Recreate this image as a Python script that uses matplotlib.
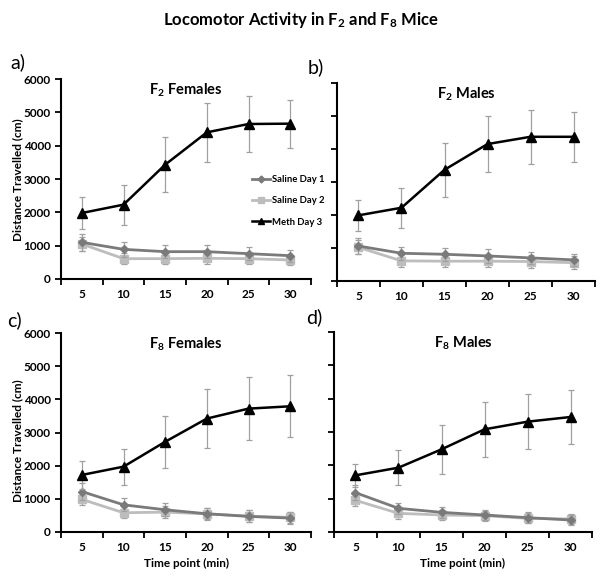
import matplotlib
matplotlib.use("Agg")
import matplotlib.pyplot as plt
from matplotlib.lines import Line2D
import numpy as np

plt.rcParams['font.family'] = ['Lato', 'DejaVu Sans']
plt.rcParams['font.weight'] = 'bold'
plt.rcParams['mathtext.fontset'] = 'custom'
plt.rcParams['mathtext.rm'] = 'Lato:bold'
plt.rcParams['mathtext.bf'] = 'Lato:bold'
plt.rcParams['mathtext.it'] = 'Lato:bold'
plt.rcParams['mathtext.default'] = 'rm'

time_points = [5, 10, 15, 20, 25, 30]
series_names = ["Saline Day 1", "Saline Day 2", "Meth Day 3"]

# F2 Females
f2f_sal1 = [1100, 890, 820, 820, 760, 700]
f2f_sal1_err = [260, 220, 200, 200, 190, 180]
f2f_sal2 = [1050, 610, 610, 620, 610, 570]
f2f_sal2_err = [200, 160, 160, 160, 160, 160]
f2f_meth = [1980, 2230, 3430, 4400, 4650, 4660]
f2f_meth_err = [480, 600, 820, 880, 830, 720]

# F2 Males
f2m_sal1 = [1060, 840, 810, 760, 700, 640]
f2m_sal1_err = [250, 200, 200, 200, 190, 180]
f2m_sal2 = [1020, 610, 600, 600, 590, 555]
f2m_sal2_err = [210, 190, 190, 190, 190, 190]
f2m_meth = [1990, 2220, 3370, 4150, 4370, 4370]
f2m_meth_err = [460, 600, 810, 850, 810, 750]

# F8 Females
f8f_sal1 = [1220, 820, 670, 550, 470, 420]
f8f_sal1_err = [250, 200, 190, 170, 180, 170]
f8f_sal2 = [985, 580, 600, 545, 480, 440]
f8f_sal2_err = [180, 170, 170, 170, 170, 170]
f8f_meth = [1720, 1970, 2720, 3420, 3720, 3790]
f8f_meth_err = [410, 540, 790, 900, 950, 930]

# F8 Males
f8m_sal1 = [1180, 710, 590, 510, 430, 360]
f8m_sal1_err = [230, 170, 160, 160, 160, 150]
f8m_sal2 = [950, 560, 510, 490, 410, 390]
f8m_sal2_err = [180, 160, 160, 150, 150, 150]
f8m_meth = [1700, 1930, 2480, 3080, 3310, 3450]
f8m_meth_err = [350, 520, 730, 820, 830, 820]

panels = [
    ("a)", "F$_2$ Females", f2f_sal1, f2f_sal1_err, f2f_sal2, f2f_sal2_err, f2f_meth, f2f_meth_err),
    ("b)", "F$_2$ Males", f2m_sal1, f2m_sal1_err, f2m_sal2, f2m_sal2_err, f2m_meth, f2m_meth_err),
    ("c)", "F$_8$ Females", f8f_sal1, f8f_sal1_err, f8f_sal2, f8f_sal2_err, f8f_meth, f8f_meth_err),
    ("d)", "F$_8$ Males", f8m_sal1, f8m_sal1_err, f8m_sal2, f8m_sal2_err, f8m_meth, f8m_meth_err),
]

W, H = 601, 577
fig = plt.figure(figsize=(W / 100, H / 100), dpi=100)

# axes rectangles in pixels: left, right, bottom(px from top), top(px from top)
rects = [(61, 311, 279, 79), (337, 595, 281, 83), (61, 311, 532, 333), (334, 592, 532, 332)]
label_pos = [(10, 62), (308, 67), (7, 320), (306, 317)]
ylabel_pos = {0: (18, 180), 2: (18, 441)}

sal1_color = "#7a7a7a"
sal2_color = "#bdbdbd"
err_color = "#a0a0a0"

axes = []
for i, (rect, p) in enumerate(zip(rects, panels)):
    l, r, b, t = rect
    ax = fig.add_axes([l / W, 1 - b / H, (r - l) / W, (b - t) / H])
    axes.append(ax)
    lab, title, s1, s1e, s2, s2e, m, me = p
    x = np.array(time_points, dtype=float)
    ax.errorbar(x, s1, yerr=s1e, color=sal1_color, ecolor=err_color, elinewidth=0.9,
                capsize=2, capthick=0.9, lw=2, marker='D', ms=4.5, mfc=sal1_color,
                mec=sal1_color, zorder=3)
    ax.errorbar(x, s2, yerr=s2e, color=sal2_color, ecolor=err_color, elinewidth=0.9,
                capsize=2, capthick=0.9, lw=2, marker='s', ms=6, mfc=sal2_color,
                mec=sal2_color, zorder=2)
    ax.errorbar(x, m, yerr=me, color='black', ecolor=err_color, elinewidth=0.9,
                capsize=2, capthick=0.9, lw=1.8, marker='^', ms=7, mfc='black',
                mec='black', zorder=4)
    ax.set_xlim(2.5, 32.5)
    ax.set_ylim(0, 6000)
    ax.set_xticks(np.arange(2.5, 33, 5))
    ax.set_xticklabels([])
    ax.set_xticks(time_points, minor=True)
    ax.set_xticklabels([str(v) for v in time_points], minor=True, fontsize=8.5, fontweight='bold')
    ax.tick_params(axis='x', which='minor', length=0, pad=7)
    ax.tick_params(axis='x', which='major', length=4, width=1.3, direction='out')
    ax.set_yticks(np.arange(0, 6001, 1000))
    ax.tick_params(axis='y', length=4, width=1.3, direction='out', labelsize=8.5)
    for lb in ax.get_yticklabels():
        lb.set_fontweight('bold')
    if i in (1, 3):
        ax.set_yticklabels([])
    else:
        yx, yy = ylabel_pos[i]
        fig.text(yx / W, 1 - yy / H, "Distance Travelled (cm)", rotation=90,
                 ha='center', va='center', fontsize=8.5, fontweight='bold')
    if i in (2, 3):
        ax.set_xlabel("Time point (min)", fontsize=8.5, fontweight='bold', labelpad=4)
    for s in ('top', 'right'):
        ax.spines[s].set_visible(False)
    for s in ('left', 'bottom'):
        ax.spines[s].set_linewidth(1.5)
    ax.text(0.5, 0.985, title, transform=ax.transAxes, ha='center', va='top',
            fontsize=10.5, fontweight='bold')
    fig.text(label_pos[i][0] / W, 1 - label_pos[i][1] / H, lab, fontsize=14,
             fontweight='normal', ha='left', va='center')

handles = [
    Line2D([], [], color=sal1_color, lw=2, marker='D', ms=3.5, mfc=sal1_color, mec=sal1_color),
    Line2D([], [], color=sal2_color, lw=2, marker='s', ms=4.5, mfc=sal2_color, mec=sal2_color),
    Line2D([], [], color='black', lw=1.8, marker='^', ms=5, mfc='black', mec='black'),
]
leg = axes[0].legend(handles, series_names, loc='upper left', bbox_to_anchor=(0.765, 0.52),
                     frameon=False, fontsize=6.8, handlelength=1.9, handletextpad=0.15,
                     labelspacing=1.3, borderpad=0, borderaxespad=0)
for txt in leg.get_texts():
    txt.set_fontweight('bold')

fig.text(0.5, 1 - 20 / H, "Locomotor Activity in F$_2$ and F$_8$ Mice", ha='center',
         va='center', fontsize=12, fontweight='bold')

fig.savefig("out.png", dpi=100)
